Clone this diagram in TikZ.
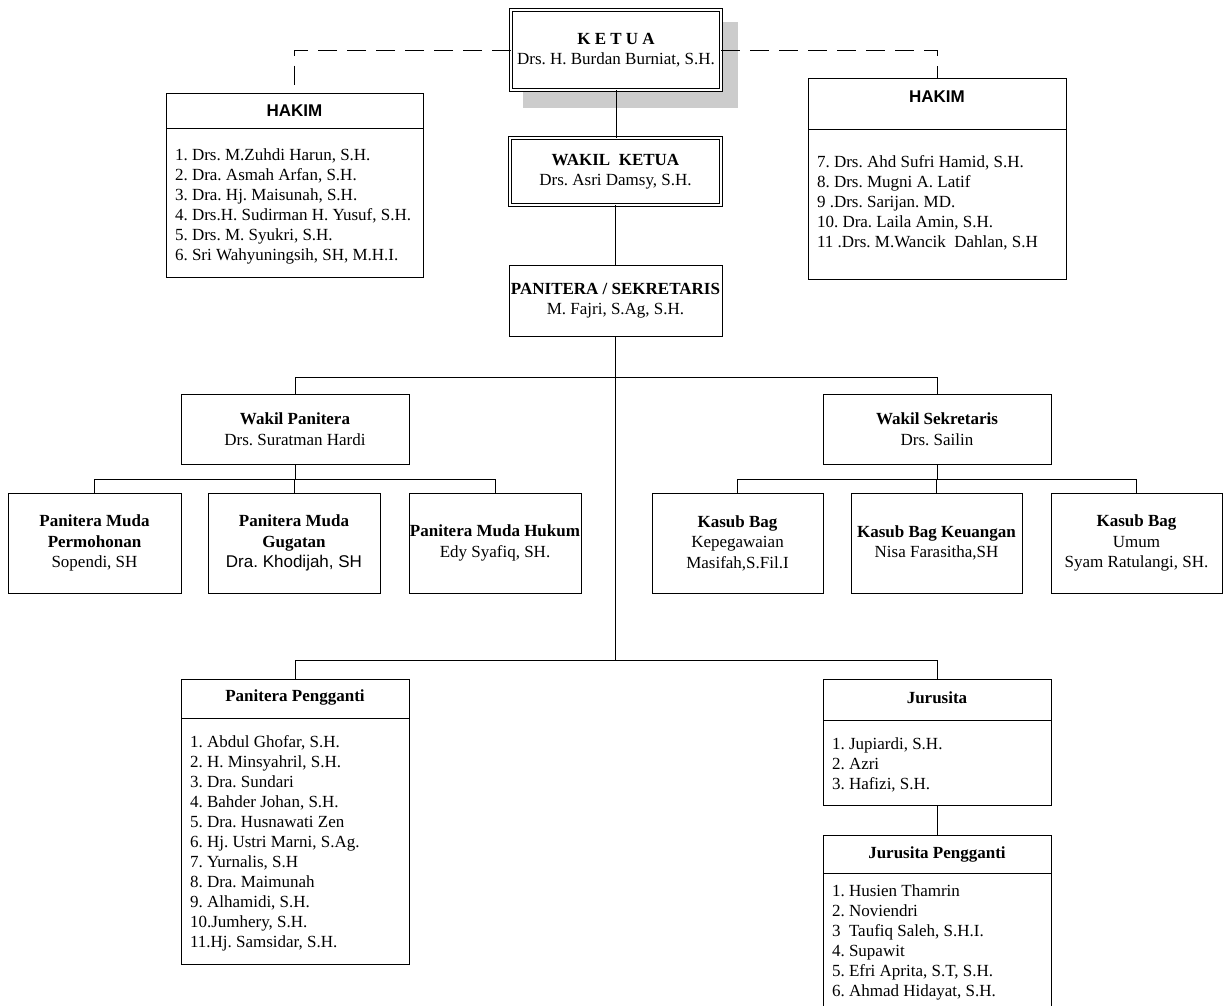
\documentclass[tikz,border=0pt]{standalone}
\usepackage{fontspec}
\setmainfont{Liberation Serif}
\newfontfamily\arialf{Liberation Sans}
\frenchspacing
\begin{document}
\frenchspacing
\begin{tikzpicture}[x=1pt,y=-1pt,
  line width=0.9pt,
  every node/.style={inner sep=0pt, outer sep=0pt},
  box/.style={draw, fill=white, anchor=north west, align=center, font=\fontsize{17}{20.5}\selectfont\frenchspacing},
  dbox/.style={box, double, double distance=2pt},
  lst/.style={anchor=north west, align=left, font=\fontsize{17}{20}\selectfont\frenchspacing},
  ttl/.style={font=\fontsize{17}{20}\selectfont\bfseries},
  httl/.style={font=\arialf\bfseries\fontsize{17}{20}\selectfont},
  dashconn/.style={dash pattern=on 19pt off 10pt},
  trunk/.style={line width=1.7pt},
  trunkb/.style={line width=1.3pt}
]
\clip (0,0) rectangle (1224,1005);
% shadow of KETUA
\fill[gray!40] (523,22) rectangle (738,108);
% top boxes
\node[dbox, minimum width=210pt, minimum height=80pt] (ketua) at (511,10) {\textbf{K E T U A}\\Drs. H. Burdan Burniat, S.H.};
\node[dbox, minimum width=211pt, minimum height=67pt] (wketua) at (510,138) {\textbf{WAKIL\ \ KETUA}\\Drs. Asri Damsy, S.H.};
\node[box, minimum width=213pt, minimum height=71pt] (panitera) at (509,265) {\textbf{PANITERA / SEKRETARIS}\\M. Fajri, S.Ag, S.H.};
% HAKIM left
\node[box, minimum width=257pt, minimum height=184pt] (hakimL) at (166,93) {};
\draw (hakimL.west |- 0,128) -- (hakimL.east |- 0,128);
\node[httl] (hakimLt) at (294.5,111) {HAKIM};
\node[lst] (hakimLl) at (175,149) {1. Drs. M.Zuhdi Harun, S.H.\\2. Dra. Asmah Arfan, S.H.\\3. Dra. Hj. Maisunah, S.H.\\4. Drs.H. Sudirman H. Yusuf, S.H.\\5. Drs. M. Syukri, S.H.\\6. Sri Wahyuningsih, SH, M.H.I.};
% HAKIM right
\node[box, minimum width=258pt, minimum height=201pt] (hakimR) at (808,78) {};
\draw (hakimR.west |- 0,129) -- (hakimR.east |- 0,129);
\node[httl] (hakimRt) at (937,97) {HAKIM};
\node[lst] (hakimRl) at (817,156) {7. Drs. Ahd Sufri Hamid, S.H.\\8. Drs. Mugni A. Latif\\9 .Drs. Sarijan. MD.\\10. Dra. Laila Amin, S.H.\\11 .Drs. M.Wancik\ \ Dahlan, S.H};
% second level
\node[box, minimum width=228pt, minimum height=70pt] (wpan) at (181,394) {\textbf{Wakil Panitera}\\Drs. Suratman Hardi};
\node[box, minimum width=228pt, minimum height=70pt] (wsek) at (823,394) {\textbf{Wakil Sekretaris}\\Drs. Sailin};
% panitera muda
\node[box, minimum width=173pt, minimum height=100pt] (pm1) at (8,493) {\textbf{Panitera Muda}\\\textbf{Permohonan}\\Sopendi, SH};
\node[box, minimum width=172pt, minimum height=100pt] (pm2) at (208,493) {\textbf{Panitera Muda}\\\textbf{Gugatan}\\{\arialf Dra. Khodijah, SH}};
\node[box, minimum width=172pt, minimum height=100pt] (pm3) at (409,493) {\textbf{Panitera Muda Hukum}\\Edy Syafiq, SH.};
% kasub bag
\node[box, minimum width=171pt, minimum height=100pt] (kb1) at (652,493) {\textbf{Kasub Bag}\\Kepegawaian\\Masifah,S.Fil.I};
\node[box, minimum width=171pt, minimum height=100pt] (kb2) at (851,493) {\textbf{Kasub Bag Keuangan}\\Nisa Farasitha,SH};
\node[box, minimum width=171pt, minimum height=100pt] (kb3) at (1051,493) {\textbf{Kasub Bag}\\Umum\\Syam Ratulangi, SH.};
% panitera pengganti
\node[box, minimum width=228pt, minimum height=285pt] (pp) at (181,679) {};
\draw (pp.west |- 0,718) -- (pp.east |- 0,718);
\node[ttl] (ppt) at (295,697) {Panitera Pengganti};
\node[lst] (ppl) at (190,736) {1. Abdul Ghofar, S.H.\\2. H. Minsyahril, S.H.\\3. Dra. Sundari\\4. Bahder Johan, S.H.\\5. Dra. Husnawati Zen\\6. Hj. Ustri Marni, S.Ag.\\7. Yurnalis, S.H\\8. Dra. Maimunah\\9. Alhamidi, S.H.\\10.Jumhery, S.H.\\11.Hj. Samsidar, S.H.};
% jurusita
\node[box, minimum width=228pt, minimum height=126pt] (js) at (823,679) {};
\draw (js.west |- 0,720) -- (js.east |- 0,720);
\node[ttl] (jst) at (937,698) {Jurusita};
\node[lst] (jsl) at (832,738) {1. Jupiardi, S.H.\\2. Azri\\3. Hafizi, S.H.};
% jurusita pengganti
\node[box, minimum width=228pt, minimum height=185pt] (jsp) at (823,835) {};
\draw (jsp.west |- 0,873) -- (jsp.east |- 0,873);
\node[ttl] (jspt) at (937,854) {Jurusita Pengganti};
\node[lst] (jspl) at (832,885) {1. Husien Thamrin\\2. Noviendri\\3\ \ Taufiq Saleh, S.H.I.\\4. Supawit\\5. Efri Aprita, S.T, S.H.\\6. Ahmad Hidayat, S.H.};
% connectors
\draw (ketua.south) -- (ketua.south |- wketua.north);
\draw (wketua.south) -- (wketua.south |- panitera.north);
\coordinate (j1) at (panitera.south |- 0,377);
\coordinate (j2) at (panitera.south |- 0,660);
\draw[trunk] (panitera.south) -- (j1);
\draw[trunkb] (j1) -- (j2);
\draw (wpan.north) |- (wsek.north |- j1) -- (wsek.north);
\draw (pp.north) |- (js.north |- j2) -- (js.north);
\coordinate (j3) at (wpan.south |- 0,479);
\draw (wpan.south) -- (j3);
\draw (pm1.north) |- (pm3.north |- j3) -- (pm3.north);
\draw (pm2.north) -- (pm2.north |- j3);
\coordinate (j4) at (wsek.south |- 0,479);
\draw (wsek.south) -- (j4);
\draw (kb1.north) |- (kb3.north |- j4) -- (kb3.north);
\draw (kb2.north) -- (kb2.north |- j4);
\draw (js.south) -- (js.south |- jsp.north);
\draw[dashconn] (ketua.west) -| (hakimL.north);
\draw[dashconn] (ketua.east) -| (hakimR.north);
\end{tikzpicture}
\end{document}
